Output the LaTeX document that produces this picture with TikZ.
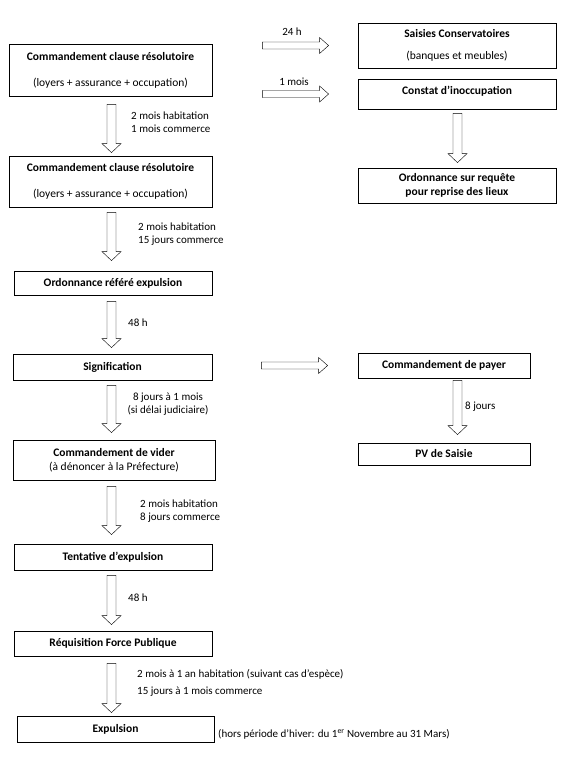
\documentclass[tikz,border=0pt]{standalone}
\usepackage{fontspec}
\setmainfont{Carlito}
\usetikzlibrary{calc}
\tikzset{
  box/.style={draw, line width=0.8pt, inner sep=0pt, align=center, font=\fontsize{11.5}{13}\selectfont\bfseries},
  lbl/.style={inner sep=0pt, align=left, font=\fontsize{11}{13}\selectfont},
  fat/.style={draw, line width=0.6pt},
  fatdown/.style n args={3}{fat, to path={let \p1=(\tikztostart), \p2=(\tikztotarget) in
    (\x1+#3pt-4.5pt,\y1-#1pt) -- (\x1+#3pt-4.5pt,\y2+#2pt+9pt) -- (\x1+#3pt-9.5pt,\y2+#2pt+9pt) --
    (\x1+#3pt,\y2+#2pt) -- (\x1+#3pt+9.5pt,\y2+#2pt+9pt) -- (\x1+#3pt+4.5pt,\y2+#2pt+9pt) --
    (\x1+#3pt+4.5pt,\y1-#1pt) -- cycle}},
  fatright/.style n args={2}{fat, to path={let \p1=(\tikztostart), \p2=(\tikztotarget) in
    (\x1+#1pt,\y2+3.5pt) -- (\x2-#2pt-9pt,\y2+3.5pt) -- (\x2-#2pt-9pt,\y2+8pt) -- (\x2-#2pt,\y2) --
    (\x2-#2pt-9pt,\y2-8pt) -- (\x2-#2pt-9pt,\y2-3.5pt) -- (\x1+#1pt,\y2-3.5pt) -- cycle}},
}
\begin{document}
\begin{tikzpicture}[x=1pt,y=-1pt]
\useasboundingbox (0,0) rectangle (568,758);
% left column
\node[box, minimum width=203pt, minimum height=52pt] (b1) at (110.5,70) {Commandement clause résolutoire\\[13pt]\mdseries (loyers + assurance + occupation)};
\node[box, minimum width=203pt, minimum height=51pt] (b2) at (110.5,181.5) {Commandement clause résolutoire\\[13pt]\mdseries (loyers + assurance + occupation)};
\node[box, minimum width=198pt, minimum height=24pt] (b3) at (113,283) {Ordonnance référé expulsion};
\node[box, minimum width=199pt, minimum height=26pt] (b4) at (112.5,367) {Signification};
\node[box, minimum width=202pt, minimum height=40pt] (b5) at (114,460) {Commandement de vider\\[1pt]\mdseries (à dénoncer à la Préfecture)};
\node[box, minimum width=198pt, minimum height=26pt] (b6) at (113,557) {Tentative d’expulsion};
\node[box, minimum width=198pt, minimum height=25pt] (b7) at (113,643.5) {Réquisition Force Publique};
\node[box, minimum width=197pt, minimum height=26pt] (b8) at (115.5,729) {Expulsion};
% right column
\node[box, minimum width=198pt, minimum height=45pt] (r1) at (457,45.5) {Saisies Conservatoires\\[9pt]\mdseries (banques et meubles)};
\node[box, minimum width=198pt, minimum height=30pt, text depth=8pt] (r2) at (457,94) {Constat d’inoccupation};
\node[box, minimum width=198pt, minimum height=35pt] (r3) at (457,185.5) {Ordonnance sur requête\\[1pt]pour reprise des lieux};
\node[box, minimum width=172pt, minimum height=25pt] (r4) at (444,365.5) {Commandement de payer};
\node[box, minimum width=172pt, minimum height=22pt] (r5) at (444,454) {PV de Saisie};
% down arrows
\draw (b1.south) to[fatdown={8}{3}{1}] (b2.north);
\draw (b2.south) to[fatdown={5}{10}{1}] (b3.north);
\draw (b3.south) to[fatdown={6}{6}{-1.5}] (b4.north);
\draw (b4.south) to[fatdown={5}{7}{-1}] (b5.north);
\draw (b5.south) to[fatdown={6}{9}{-2.5}] (b6.north);
\draw (b6.south) to[fatdown={5}{6}{-1.5}] (b7.north);
\draw (b7.south) to[fatdown={7}{3}{-1.5}] (b8.north);
\draw (r2.south) to[fatdown={4}{5}{0.5}] (r3.north);
\draw (r4.south) to[fatdown={2}{8}{13.5}] (r5.north);
% right arrows
\draw (b1.east) to[fatright={50}{29}] (r1.west);
\draw (b1.east) to[fatright={50}{29}] (r2.west);
\draw (b4.east) to[fatright={49}{30}] (r4.west);
% labels
\node[lbl] (t24) at (292,32) {24 h};
\node[lbl] (t1m) at (294,82) {1 mois};
\node[lbl, anchor=west] (l1) at (131,122.5) {2 mois habitation\\1 mois commerce};
\node[lbl, anchor=west] (l2) at (138,234) {2 mois habitation\\15 jours commerce};
\node[lbl, anchor=west] (l3) at (128,323) {48 h};
\node[lbl, align=center] (l4) at (168,404) {8 jours à 1 mois\\(si délai judiciaire)};
\node[lbl, anchor=west] (l5) at (140,511) {2 mois habitation\\8 jours commerce};
\node[lbl, anchor=west] (l6) at (128,598) {48 h};
\node[lbl, anchor=west] (l7) at (137,682.5) {2 mois à 1 an habitation (suivant cas d’espèce)\\[4pt]15 jours à 1 mois commerce};
\node[lbl, anchor=west] (l8) at (465,407) {8 jours};
\node[lbl, anchor=west] (note) at (218,734) {(hors période d’hiver: du 1\textsuperscript{er} Novembre au 31 Mars)};
\end{tikzpicture}
\end{document}
